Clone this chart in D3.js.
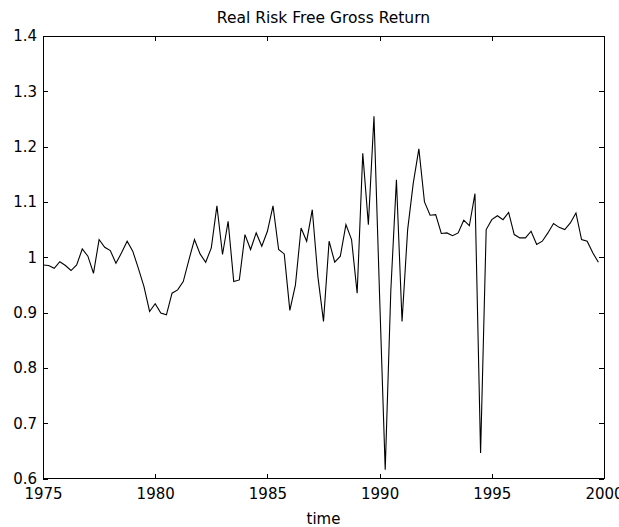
<!DOCTYPE html>
<html>
<head>
<meta charset="utf-8">
<script src="https://cdn.jsdelivr.net/npm/d3@7"></script>
<style>
  body { margin: 0; background: #fff; }
  svg text { font-family: "DejaVu Sans", sans-serif; fill: #000; }
</style>
</head>
<body>
<div id="chart"></div>
<script>
// quarterly real risk free gross return, 1975Q1 onwards
const startYear = 1975;
const returns = [
  0.986, 0.985, 0.980, 0.992, 0.985, 0.976, 0.986, 1.015, 1.002, 0.971,
  1.032, 1.018, 1.012, 0.989, 1.008, 1.029, 1.011, 0.980, 0.947, 0.902,
  0.916, 0.899, 0.896, 0.935, 0.941, 0.956, 0.995, 1.032, 1.006, 0.991,
  1.017, 1.093, 1.005, 1.065, 0.956, 0.959, 1.041, 1.014, 1.044, 1.020,
  1.047, 1.093, 1.014, 1.006, 0.904, 0.950, 1.053, 1.029, 1.086, 0.965,
  0.884, 1.029, 0.991, 1.002, 1.059, 1.032, 0.935, 1.188, 1.059, 1.255,
  0.930, 0.616, 0.940, 1.140, 0.884, 1.050, 1.134, 1.196, 1.100, 1.076,
  1.077, 1.043, 1.044, 1.039, 1.044, 1.067, 1.057, 1.115, 0.646, 1.050,
  1.068, 1.075, 1.068, 1.081, 1.041, 1.035, 1.035, 1.047, 1.023, 1.029,
  1.044, 1.061, 1.054, 1.050, 1.062, 1.080, 1.032, 1.029, 1.008, 0.991
];
const xTicks = [1975, 1980, 1985, 1990, 1995, 2000];
const yTicks = [0.6, 0.7, 0.8, 0.9, 1, 1.1, 1.2, 1.3, 1.4];
const yTickLabels = ["0.6", "0.7", "0.8", "0.9", "1", "1.1", "1.2", "1.3", "1.4"];

const W = 619, H = 527;
const margin = {top: 36, right: 15, bottom: 48.5, left: 43};
const width = W - margin.left - margin.right,
      height = H - margin.top - margin.bottom;

const svg = d3.select("#chart").append("svg")
    .attr("width", W)
    .attr("height", H);

const g = svg.append("g")
    .attr("transform", "translate(" + margin.left + "," + margin.top + ")");

const x = d3.scaleLinear().domain([1975, 2000]).range([0, width]);
const y = d3.scaleLinear().domain([0.6, 1.4]).range([height, 0]);

const tick = 5;
const fs = 15;

// bottom axis with labels
const xAxis = g.append("g")
    .attr("transform", `translate(0,${height})`)
    .call(d3.axisBottom(x).tickValues(xTicks).tickFormat(d3.format("d"))
        .tickSizeInner(-tick).tickSizeOuter(0).tickPadding(0));
// left axis with labels
const yAxis = g.append("g")
    .call(d3.axisLeft(y).tickValues(yTicks)
        .tickFormat((d, i) => yTickLabels[i])
        .tickSizeInner(-tick).tickSizeOuter(0).tickPadding(6));
// top and right ticks only
g.append("g")
    .call(d3.axisTop(x).tickValues(xTicks).tickFormat("")
        .tickSizeInner(-tick).tickSizeOuter(0));
g.append("g")
    .attr("transform", `translate(${width},0)`)
    .call(d3.axisRight(y).tickValues(yTicks).tickFormat("")
        .tickSizeInner(-tick).tickSizeOuter(0));

g.selectAll(".domain").remove();
g.selectAll(".tick line").attr("stroke", "#000").attr("shape-rendering", "crispEdges");
xAxis.selectAll("text").attr("font-size", fs).attr("y", 15.5).attr("dy", "0.36em");
yAxis.selectAll("text").attr("font-size", fs);

// box
g.append("rect")
    .attr("width", width)
    .attr("height", height)
    .attr("fill", "none")
    .attr("stroke", "#000")
    .attr("shape-rendering", "crispEdges");

// the series
const line = d3.line()
    .x((d, i) => x(startYear + i / 4))
    .y(d => y(d));

g.append("path")
    .datum(returns)
    .attr("fill", "none")
    .attr("stroke", "#000")
    .attr("stroke-width", 1.1)
    .attr("d", line);

// title
svg.append("text")
    .attr("x", margin.left + width / 2)
    .attr("y", 23)
    .attr("text-anchor", "middle")
    .attr("font-size", 15.5)
    .text("Real Risk Free Gross Return");

// x label
svg.append("text")
    .attr("x", margin.left + width / 2)
    .attr("y", 523.5)
    .attr("text-anchor", "middle")
    .attr("font-size", fs)
    .text("time");
</script>
</body>
</html>
